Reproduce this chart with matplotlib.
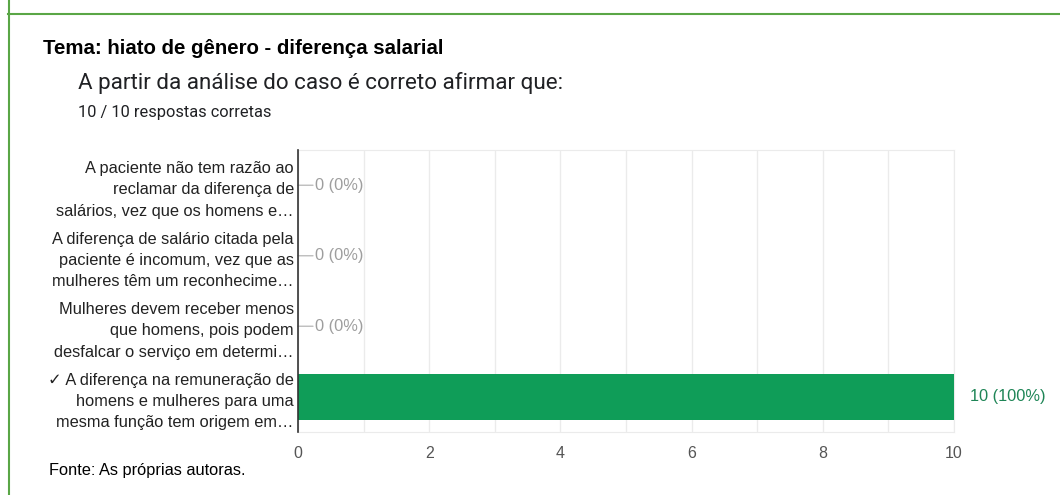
import numpy as np
import matplotlib
matplotlib.use('Agg')
import matplotlib.pyplot as plt
from matplotlib.lines import Line2D

plt.rcParams['font.family'] = ['Liberation Sans', 'DejaVu Sans']

# data
labels = ['A paciente não tem razão ao\nreclamar da diferença de\nsalários, vez que os homens e…',
          'A diferença de salário citada pela\npaciente é incomum, vez que as\nmulheres têm um reconhecime…',
          'Mulheres devem receber menos\nque homens, pois podem\ndesfalcar o serviço em determi…',
          '✓ A diferença na remuneração de\nhomens e mulheres para uma\nmesma função tem origem em…']
counts = [0, 0, 0, 10]
total = 10
xticks = [0, 2, 4, 6, 8, 10]

green = '#0f9d58'
grey_txt = '#9e9e9e'

fig = plt.figure(figsize=(10.6, 4.95), dpi=100)

# frame lines of the card
fig.add_artist(Line2D([8/1060, 1], [1-14/495, 1-14/495], color='#5aa646', lw=1.5))
fig.add_artist(Line2D([9/1060, 9/1060], [0, 1], color='#5aa646', lw=1.5))

fig.text(43/1060, 1-48/495, 'Tema: hiato de gênero - diferença salarial',
         fontsize=14.7, fontweight='bold', va='center', color='#000000')
fig.text(78/1060, 1-83/495, 'A partir da análise do caso é correto afirmar que:',
         fontsize=16.1, family=['Roboto', 'DejaVu Sans'], va='center', color='#202124')
fig.text(78/1060, 1-112/495, '10 / 10 respostas corretas',
         fontsize=11.8, family=['Roboto', 'DejaVu Sans'], va='center', color='#202124')
fig.text(49/1060, 1-471/495, 'Fonte: As próprias autoras.',
         fontsize=11.8, va='center', color='#000000')

ax = fig.add_axes([298/1060, 1-432/495, 656/1060, 282/495])
y = np.arange(len(labels))
ax.barh(y, counts, height=0.65, color=green, zorder=3)
ax.set_ylim(3.5, -0.5)
ax.set_xlim(0, total)

ax.set_xticks(xticks)
ax.set_xticks(np.arange(0, total + 1, 1), minor=True)
ax.grid(True, axis='x', which='both', color='#ebebeb', lw=1, zorder=0)
ax.tick_params(axis='x', which='both', length=0, labelsize=11.5, labelcolor='#555555', pad=10)

ax.set_yticks(y)
ax.set_yticklabels(labels, fontsize=11.8, color='#222222', linespacing=1.53)
ax.tick_params(axis='y', length=0, pad=3)

for s in ['top', 'bottom', 'right']:
    ax.spines[s].set_color('#ebebeb')
ax.spines['left'].set_color('#333333')
ax.spines['left'].set_linewidth(1.2)
ax.spines['left'].set_zorder(4)

for yi, c in zip(y, counts):
    pct = int(round(100 * c / total))
    if c == 0:
        ax.annotate('', xy=(c, yi), xytext=(15, 0), textcoords='offset pixels',
                    xycoords='data', arrowprops=dict(arrowstyle='-', color='#bdbdbd', lw=1,
                                                     shrinkA=0, shrinkB=0))
        ax.annotate(f'{c} ({pct}%)', xy=(c, yi), xytext=(17, 0), textcoords='offset pixels',
                    va='center', ha='left', fontsize=11.8, color=grey_txt)
    else:
        ax.annotate(f'{c} ({pct}%)', xy=(c, yi), xytext=(16, 0), textcoords='offset pixels',
                    va='center', ha='left', fontsize=11.8, color='#1e8556')

fig.savefig('out.png', dpi=100)
